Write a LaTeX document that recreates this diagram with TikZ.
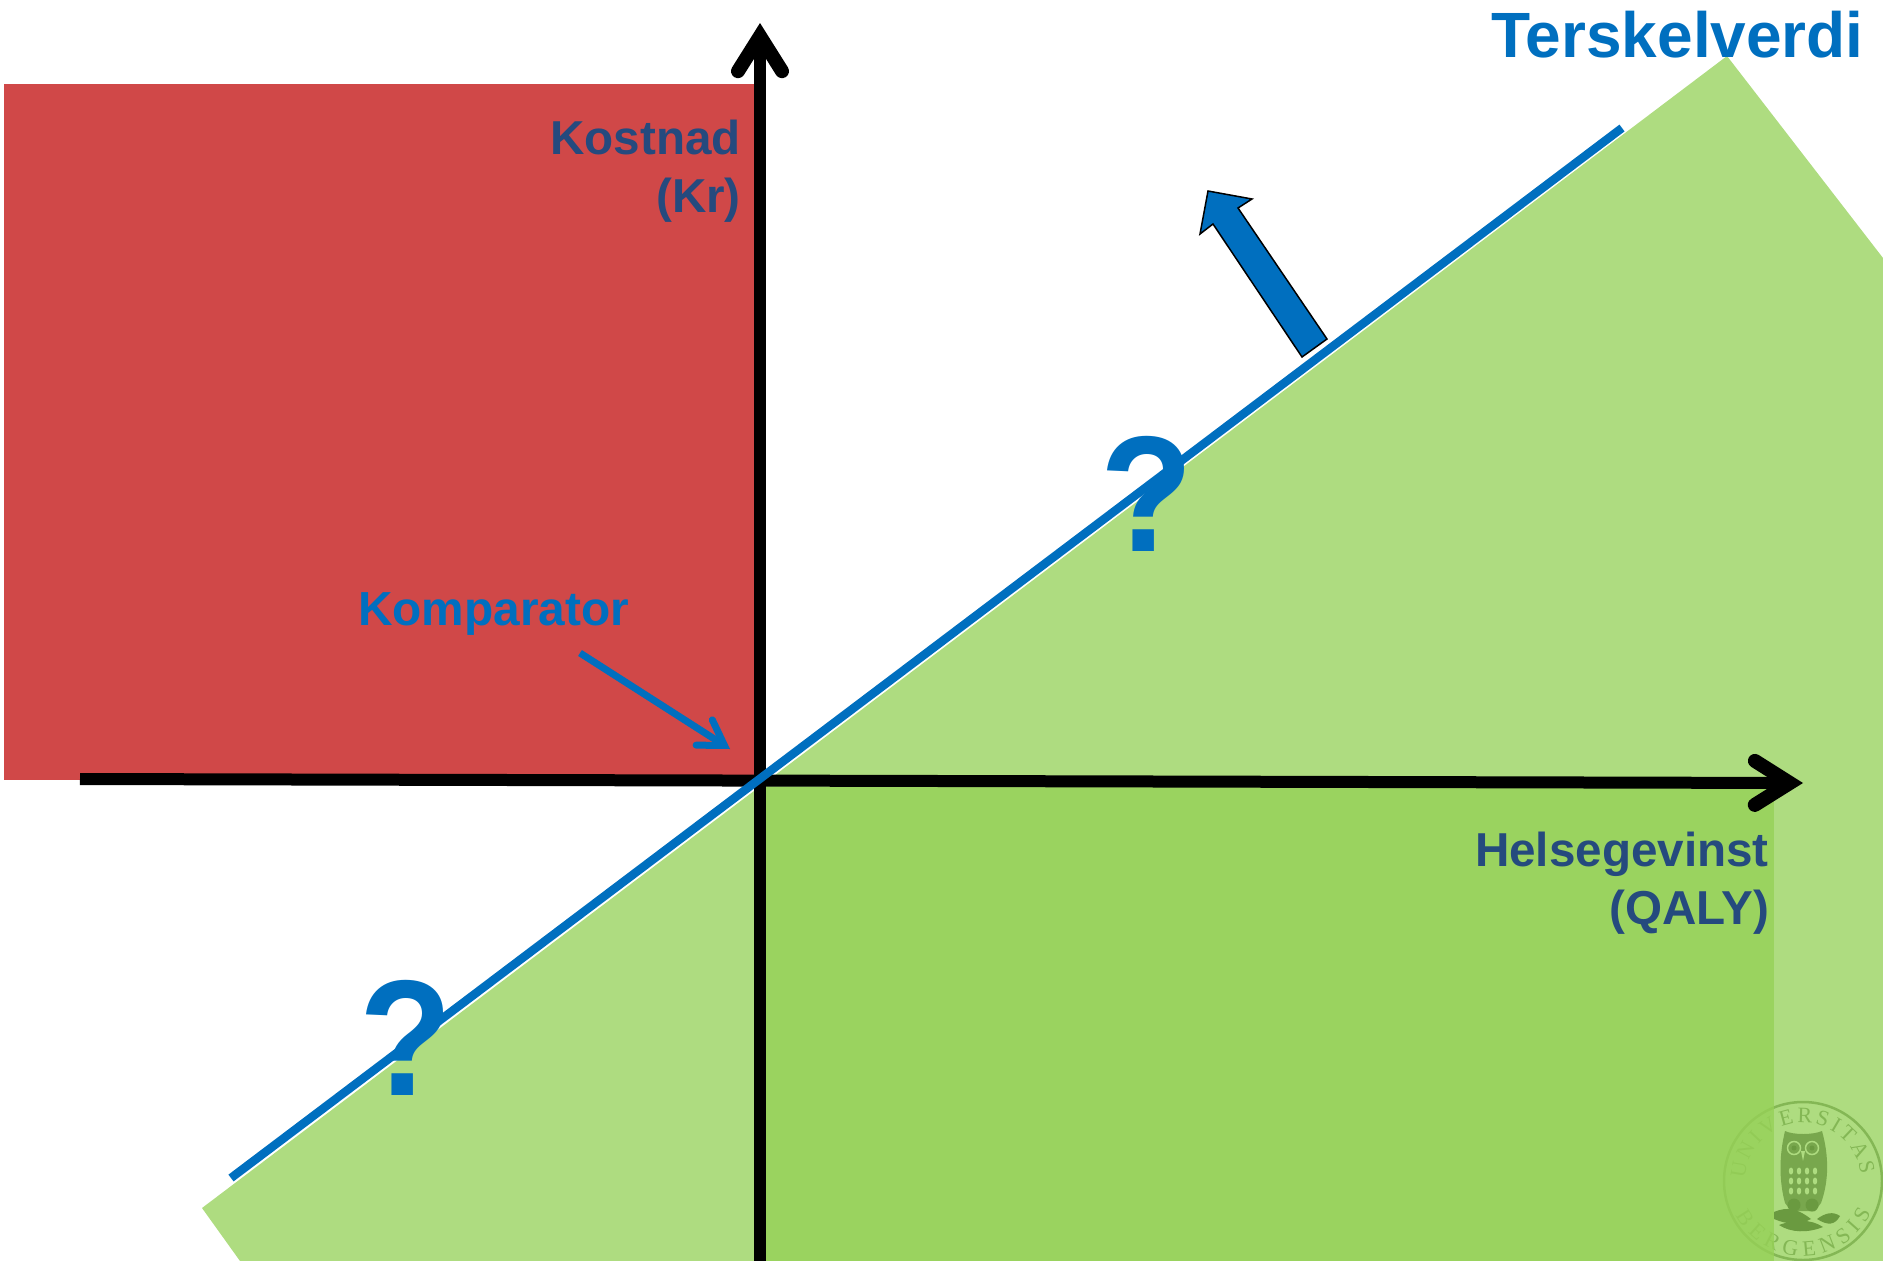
\documentclass[tikz,border=0pt]{standalone}
\usepackage{fontspec}
\setmainfont{Liberation Sans}
\newfontfamily\sealfont{Liberation Serif}
\usetikzlibrary{arrows.meta}
\usetikzlibrary{decorations.text}
\definecolor{redarea}{HTML}{D04848}
\definecolor{greenlight}{HTML}{AEDC80}
\definecolor{greendark}{HTML}{96D157}
\definecolor{lineblue}{HTML}{006FBF}
\definecolor{labelblue}{HTML}{254A7E}
\definecolor{sealline}{HTML}{84B755}
\definecolor{owlgreen}{HTML}{6A9A40}
\tikzset{
  axisline/.style={line width=12pt, -{Straight Barb[length=35pt, width=44pt, line width=14pt, line cap=round, line join=miter]}},
  axislabel/.style={font=\fontsize{47.6}{58}\selectfont\bfseries, text=labelblue, inner sep=0pt, align=right},
  bluelabel/.style={font=\fontsize{47.8}{58}\selectfont\bfseries, text=lineblue, inner sep=0pt},
  querymark/.style={font=\fontsize{165}{165}\selectfont\bfseries, text=lineblue, inner sep=0pt, anchor=base, xscale=.92},
}
\begin{document}
\begin{tikzpicture}[x=1pt, y=-1pt]
\useasboundingbox (0,0) rectangle (1883,1261);

% --- Aree ---
\fill[redarea] (4,84) rectangle (760,780);
\fill[greenlight] (202,1208) -- (1727,56) -- (1883,258) -- (1883,1261) -- (240,1261) -- cycle;

% --- Sigillo ---
\begin{scope}[shift={(1803,1181)}, y=1pt]
  \draw[sealline, line width=2.5pt] (0,0) circle (79);
  \path[decorate, decoration={text along path, text align={fit to path},
    text={|\fontsize{22}{22}\sealfont\color{sealline}|UNIVERSITAS}}] (178:58) arc (178:6:58);
  \path[decorate, decoration={text along path, text align={fit to path},
    text={|\fontsize{22}{22}\sealfont\color{sealline}|BERGENSIS}}] (207:75) arc (207:335:75);
  % gufo
  \fill[owlgreen!80!greenlight] (-18,50) .. controls (-10,46) and (10,46) .. (19,50)
    .. controls (26,25) and (26,0) .. (18,-22) -- (12,-30) -- (-12,-30) -- (-18,-22)
    .. controls (-24,0) and (-24,25) .. cycle;
  \foreach \px in {-9,9} {
    \draw[greenlight, line width=1.5pt] (\px,33) circle (6.5);
    \fill[owlgreen] (\px,33) circle (2.5);
    \fill[owlgreen] (\px,-24) circle (6.5);
  }
  \fill[greenlight] (-2,30) -- (2,30) -- (0,20) -- cycle;
  \foreach \py in {-10,0,10} {
    \foreach \px in {-12,-4,4,12} {
      \fill[greenlight] (\px,\py) ellipse (2.2 and 3.5);
    }
  }
  % colline
  \fill[owlgreen] (-29,-31) .. controls (-15,-25) and (-5,-28) .. (8,-38)
    .. controls (-3,-44) and (-15,-44) .. (-29,-38) -- cycle;
  \fill[owlgreen] (-24,-44) .. controls (-8,-38) and (8,-38) .. (20,-46)
    .. controls (5,-52) and (-12,-52) .. cycle;
  \fill[owlgreen] (14,-38) .. controls (22,-32) and (30,-30) .. (37,-35)
    .. controls (32,-44) and (25,-45) .. cycle;
\end{scope}
\fill[greendark, fill opacity=.8] (766,787) rectangle (1774,1261);

% --- Assi ---
\coordinate (ytop) at (760,23);
\coordinate (ybot) at (760,1261);
\coordinate (xleft) at (80,779);
\coordinate (xright) at (1803,783);
\draw[axisline] (ybot) -- (ytop);
\draw[axisline] (xleft) -- (xright);

% --- Soglia ---
\coordinate (lowend) at (231,1178);
\coordinate (highend) at (1622,128);
\draw[lineblue, line width=8.5pt] (lowend) -- (highend);

% --- Freccia spessa ---
\filldraw[lineblue, draw=black, line width=1.5pt, line join=miter]
  (1208,191) -- (1252,199) -- (1238,208) -- (1327,339) -- (1302,357) -- (1213,224) -- (1200,234) -- cycle;

% --- Etichette ---
\node[bluelabel, font=\fontsize{64}{64}\selectfont\bfseries, anchor=base east] (soglia) at (1864,57) {Terskelverdi};
\node[axislabel, anchor=base east] (kostnad) at (741,212) {Kostnad\\(Kr)};
\node[axislabel, anchor=base east] (helse) at (1769,924) {Helsegevinst\\(QALY)};
\node[bluelabel, anchor=base west] (komp) at (358,625) {Komparator};
\node[querymark] (quno) at (1147,551) {?};
\node[querymark] (qdue) at (406,1095) {?};

% --- Freccia al comparatore ---
\coordinate (kstart) at (580,653);
\coordinate (ktip) at (730,749);
\draw[lineblue, line width=7pt, -{Straight Barb[length=24pt, width=30pt, line width=7pt, line cap=round, line join=miter]}] (kstart) -- (ktip);
\end{tikzpicture}
\end{document}
